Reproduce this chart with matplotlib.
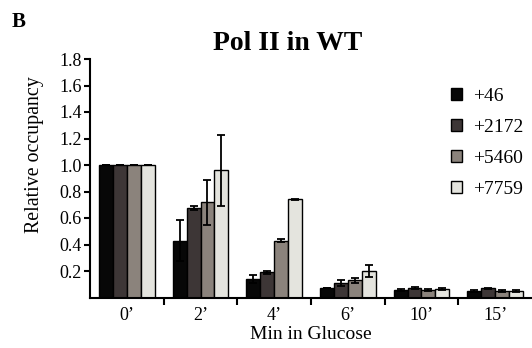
import numpy as np
import matplotlib
matplotlib.use("Agg")
import matplotlib.pyplot as plt

plt.rcParams['font.family'] = ['Liberation Serif', 'DejaVu Serif']

times = ["0\u2019", "2\u2019", "4\u2019", "6\u2019", "10\u2019", "15\u2019"]
positions = ["+46", "+2172", "+5460", "+7759"]

occ_46   = [1.00, 0.43, 0.14, 0.07, 0.057, 0.05]
occ_2172 = [1.00, 0.675, 0.19, 0.11, 0.072, 0.068]
occ_5460 = [1.00, 0.72, 0.43, 0.13, 0.058, 0.05]
occ_7759 = [1.00, 0.96, 0.74, 0.20, 0.064, 0.05]

err_46   = [0.0, 0.155, 0.03, 0.0, 0.005, 0.005]
err_2172 = [0.0, 0.012, 0.01, 0.02, 0.008, 0.006]
err_5460 = [0.0, 0.17, 0.008, 0.018, 0.008, 0.006]
err_7759 = [0.0, 0.27, 0.006, 0.045, 0.01, 0.008]

colors = ["#070707", "#3d3636", "#8b837c", "#e4e4de"]

fig = plt.figure(figsize=(5.32, 3.48), dpi=100)
ax = fig.add_axes([90/532, 1 - 297.5/348, 442/532, (297.5 - 59)/348])

x = np.arange(len(times))
w = 0.19
series = [occ_46, occ_2172, occ_5460, occ_7759]
errs = [err_46, err_2172, err_5460, err_7759]
for i, (vals, e, c, lab) in enumerate(zip(series, errs, colors, positions)):
    ax.bar(x + (i - 1.5) * w, vals, w, color=c, edgecolor="black", linewidth=1.0,
           yerr=e, capsize=3, error_kw=dict(ecolor="black", elinewidth=1.3, capthick=1.3),
           label=lab)

ax.set_xlim(-0.5, 5.5)
ax.set_ylim(0, 1.8)
yt = np.arange(0.2, 1.81, 0.2)
ax.set_yticks(yt)
ax.set_yticklabels([f"{v:.1f}" for v in yt], fontsize=13)
ax.set_xticks(x)
ax.set_xticklabels(times, fontsize=13)
ax.tick_params(axis="x", which="major", length=0, pad=7)
ax.set_xticks(np.arange(0.5, 5.5, 1.0), minor=True)
ax.tick_params(axis="x", which="minor", length=5, width=1.5, direction="out")
ax.tick_params(axis="y", length=4, width=1.5, direction="out", pad=2)
ax.spines["top"].set_visible(False)
ax.spines["right"].set_visible(False)
ax.spines["left"].set_linewidth(1.5)
ax.spines["bottom"].set_linewidth(1.5)

ax.set_xlabel("Min in Glucose", fontsize=14, labelpad=1)
ax.set_ylabel("Relative occupancy", fontsize=14.3, va="center")
ax.yaxis.set_label_coords((35 - 90)/442, (297.5 - 155)/238.5)
fig.text(288/532, 1 - 44/348, "Pol II in WT", fontsize=20, fontweight="bold",
         ha="center", va="center")

leg = ax.legend(loc="upper left", bbox_to_anchor=((451 - 90)/442, (297.5 - 88)/238.5),
                frameon=False, fontsize=14, borderaxespad=0, borderpad=0,
                handlelength=0.55, handleheight=0.55, handletextpad=0.6, labelspacing=0.72)

fig.text(12/532, 1 - 12/348, "B", fontsize=15, fontweight="bold", va="top")

fig.savefig("out.png", dpi=100)
